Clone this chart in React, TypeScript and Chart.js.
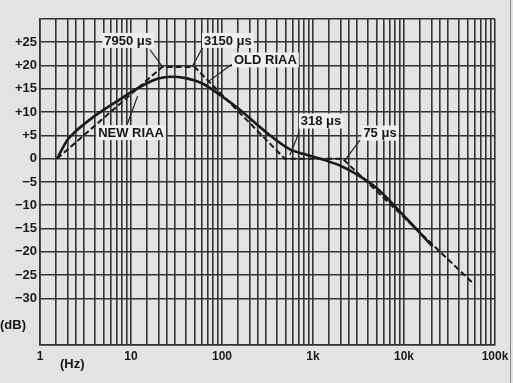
import React, { useEffect, useRef } from 'react';
import { Chart, registerables } from 'chart.js';
Chart.register(...registerables);

// NEW RIAA (solid curve): frequency (Hz) and level (dB)
const newFreq = [1.54, 2, 2.5, 3, 4, 5, 7, 10, 15, 20, 27, 40, 60, 95, 157, 280, 560, 800, 1200, 2000, 3000, 5000, 10000, 20500];
const newDb = [0, 4, 6, 7.3, 9.2, 10.5, 12.3, 14.3, 16.2, 17.2, 17.6, 17.3, 16.2, 13.7, 10.5, 6.3, 2.0, 1.0, 0, -1.5, -3.3, -6.3, -12.3, -18.8];

// OLD RIAA / asymptotes (dashed)
const oldFreq = [1.54, 22, 50, 490, 2120, 57000];
const oldDb = [0, 19.7, 19.7, 0, 0, -26.7];

// x grid lines (Hz)
const decades = [1, 10, 100, 1000, 10000];
const multipliers = [1, 1.5, 2, 2.5, 3, 4, 5, 6, 7, 8, 9];
const xMajorValues = [1, 10, 100, 1000, 10000, 100000];
const xMajorLabels = ['1', '10', '100', '1k', '10k', '100k'];

// y tick labels
const yLabelValues = [25, 20, 15, 10, 5, 0, -5, -10, -15, -20, -25, -30];
const yLabelTexts = ['+25', '+20', '+15', '+10', '+5', '0', '\u22125', '\u221210', '\u221215', '\u221220', '\u221225', '\u221230'];

// annotations: label position and leader line (in Hz / dB)
const noteTexts = ['7950 \u03bcs', '3150 \u03bcs', 'OLD RIAA', 'NEW RIAA', '318 \u03bcs', '75 \u03bcs'];
const noteAt: [number, number][] = [[9.3, 25.4], [116, 25.4], [300, 21.2], [10, 5.6], [1225, 8.1], [5450, 5.5]];
const leadFrom: [number, number][] = [[16.2, 23.4], [61.8, 24.0], [128, 20.3], [9.1, 7.4], [700, 5.6], [3280, 4.0]];
const leadTo: [number, number][] = [[21.9, 19.9], [46.8, 19.7], [70, 16.5], [11.8, 13.4], [559, 0.8], [2248, -0.3]];

const FONT = "'Liberation Sans', Arial, sans-serif";
const GRID = '#333333';

export default function App() {
  const ref = useRef<HTMLCanvasElement | null>(null);
  useEffect(() => {
    const canvas = ref.current;
    if (!canvas) return;
    const xTicks: number[] = [];
    decades.forEach((d) => multipliers.forEach((m) => xTicks.push(d * m)));
    xTicks.push(100000);

    const overlay = {
      id: 'overlay',
      beforeDraw(chart: any) {
        const ctx = chart.ctx;
        ctx.save();
        ctx.fillStyle = '#e3e3e3';
        ctx.fillRect(0, 0, chart.width, chart.height);
        ctx.restore();
      },
      afterDatasetsDraw(chart: any) {
        const ctx = chart.ctx;
        const xs = chart.scales.x;
        const ys = chart.scales.y;
        ctx.save();
        ctx.strokeStyle = '#222';
        ctx.lineWidth = 1.2;
        for (let i = 0; i < noteTexts.length; i++) {
          ctx.beginPath();
          ctx.moveTo(xs.getPixelForValue(leadFrom[i][0]), ys.getPixelForValue(leadFrom[i][1]));
          ctx.lineTo(xs.getPixelForValue(leadTo[i][0]), ys.getPixelForValue(leadTo[i][1]));
          ctx.stroke();
        }
        ctx.font = `bold 13px ${FONT}`;
        ctx.textAlign = 'center';
        ctx.textBaseline = 'middle';
        for (let i = 0; i < noteTexts.length; i++) {
          const px = xs.getPixelForValue(noteAt[i][0]);
          const py = ys.getPixelForValue(noteAt[i][1]);
          const w = ctx.measureText(noteTexts[i]).width;
          ctx.fillStyle = '#efefef';
          ctx.fillRect(px - w / 2 - 2, py - 7.5, w + 4, 15);
          ctx.fillStyle = '#151515';
          ctx.fillText(noteTexts[i], px, py + 0.5);
        }
        ctx.textAlign = 'left';
        ctx.fillText('(dB)', 0, 325);
        ctx.fillText('(Hz)', 60, 364);
        // scan border at right
        ctx.strokeStyle = '#8a8a8a';
        ctx.lineWidth = 1;
        ctx.beginPath();
        ctx.moveTo(510.5, 0);
        ctx.lineTo(510.5, chart.height);
        ctx.stroke();
        ctx.restore();
      },
    };

    const chart = new Chart(canvas, {
      type: 'line',
      data: {
        datasets: [
          {
            label: 'NEW RIAA',
            data: newFreq.map((f, i) => ({ x: f, y: newDb[i] })),
            borderColor: '#1a1a1a',
            borderWidth: 2.6,
            pointRadius: 0,
            cubicInterpolationMode: 'monotone',
            fill: false,
          },
          {
            label: 'OLD RIAA',
            data: oldFreq.map((f, i) => ({ x: f, y: oldDb[i] })),
            borderColor: '#1a1a1a',
            borderWidth: 2,
            borderDash: [6, 3],
            pointRadius: 0,
            tension: 0,
            fill: false,
          },
        ],
      },
      options: {
        animation: false,
        responsive: false,
        devicePixelRatio: 1,
        layout: { padding: { top: 19, right: 18, left: 0, bottom: 0 } },
        plugins: { legend: { display: false }, tooltip: { enabled: false } },
        scales: {
          x: {
            type: 'logarithmic',
            min: 1,
            max: 100000,
            afterBuildTicks: (scale: any) => {
              scale.ticks = xTicks.map((v) => ({ value: v, major: xMajorValues.includes(v) }));
            },
            afterFit: (scale: any) => {
              scale.height = 38;
            },
            ticks: {
              autoSkip: false,
              maxRotation: 0,
              padding: 4,
              color: '#1a1a1a',
              font: { family: FONT, weight: 'bold', size: 12 },
              callback: (value: any) => {
                const idx = xMajorValues.indexOf(Number(value));
                return idx >= 0 ? xMajorLabels[idx] : '';
              },
            },
            grid: { color: GRID, lineWidth: 1.6, drawTicks: false },
            border: { color: GRID, width: 1.6 },
          },
          y: {
            type: 'linear',
            min: -40,
            max: 30,
            afterFit: (scale: any) => {
              scale.width = 40;
            },
            ticks: {
              stepSize: 5,
              padding: 3,
              color: '#1a1a1a',
              font: { family: FONT, weight: 'bold', size: 13 },
              callback: (value: any) => {
                const idx = yLabelValues.indexOf(Number(value));
                return idx >= 0 ? yLabelTexts[idx] : '';
              },
            },
            grid: {
              color: (c: any) => (c.tick && c.tick.value === -35 ? 'rgba(0,0,0,0)' : GRID),
              lineWidth: 1.6,
              drawTicks: false,
            },
            border: { color: GRID, width: 1.6 },
          },
        },
      },
      plugins: [overlay],
    } as any);
    return () => chart.destroy();
  }, []);

  return (
    <div style={{ position: 'fixed', left: 0, top: 0, width: 513, height: 383 }}>
      <canvas ref={ref} width={513} height={383} style={{ width: 513, height: 383, display: 'block' }} />
    </div>
  );
}
